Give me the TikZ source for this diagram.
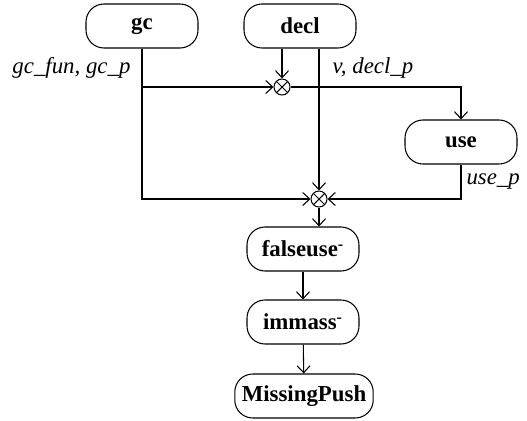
\documentclass[tikz,border=0pt]{standalone}
\usepackage{fontspec}
\setmainfont{Liberation Serif}
\usetikzlibrary{arrows.meta}

\tikzset{
  blok/.style={draw, rounded corners=0.36cm, minimum width=2.24cm, minimum height=0.88cm, inner xsep=0.14cm, font=\fontsize{13}{16}\selectfont\bfseries},
  kruis/.style={draw, circle, minimum size=0.32cm, inner sep=0pt,
    path picture={\draw (path picture bounding box.north west) -- (path picture bounding box.south east)
                        (path picture bounding box.north east) -- (path picture bounding box.south west);}},
  lbl/.style={font=\fontsize{13}{16}\selectfont\itshape, inner sep=0pt},
  pijl/.style={-{Straight Barb[length=0.14cm, width=0.26cm]}}
}

\begin{document}
\begin{tikzpicture}[line width=0.6pt]
  \useasboundingbox (0,0) rectangle (10.54,-8.4);

      \draw (2.84,-0.52) node[blok] (gc) {gc};
  \draw (6.00,-0.52) node[blok] (decl) {decl};
      \draw (9.22,-2.84) node[blok] (use) {use};
  \draw (5.64,-1.74) node[kruis] (c1) {};
  \draw (6.38,-3.98) node[kruis] (c2) {};
      \draw (6.06,-4.98) node[blok] (falseuse) {falseuse\textsuperscript{-}};
      \draw (6.06,-6.44) node[blok] (immass) {immass\textsuperscript{-}};
      \draw (6.08,-7.92) node[blok] (push) {MissingPush};

      \draw[pijl] (gc.south) |- (c2.west);
      \draw[pijl] (gc.south |- c1) -- (c1.west);
      \path (gc.south) -- (gc.south |- c1) node[lbl, midway, left=0.22cm] {gc\_fun, gc\_p};

      \draw[pijl] (decl.south -| c1) -- (c1.north);
      \draw[pijl] (decl.south -| c2) -- (c2.north);
      \draw[pijl] (c1.east) -| (use.north);
      \path (decl.south -| c2) -- (c2 |- c1) node[lbl, midway, right=0.26cm] {v, decl\_p};

      \draw[pijl] (use.south) |- (c2.east) node[lbl, pos=0.25, right=0.1cm] {use\_p};

      \draw[pijl] (c2.south) -- (c2.south |- falseuse.north);
      \path[pijl] (falseuse) edge (immass);
      \path[pijl] (immass) edge (push);
\end{tikzpicture}
\end{document}
